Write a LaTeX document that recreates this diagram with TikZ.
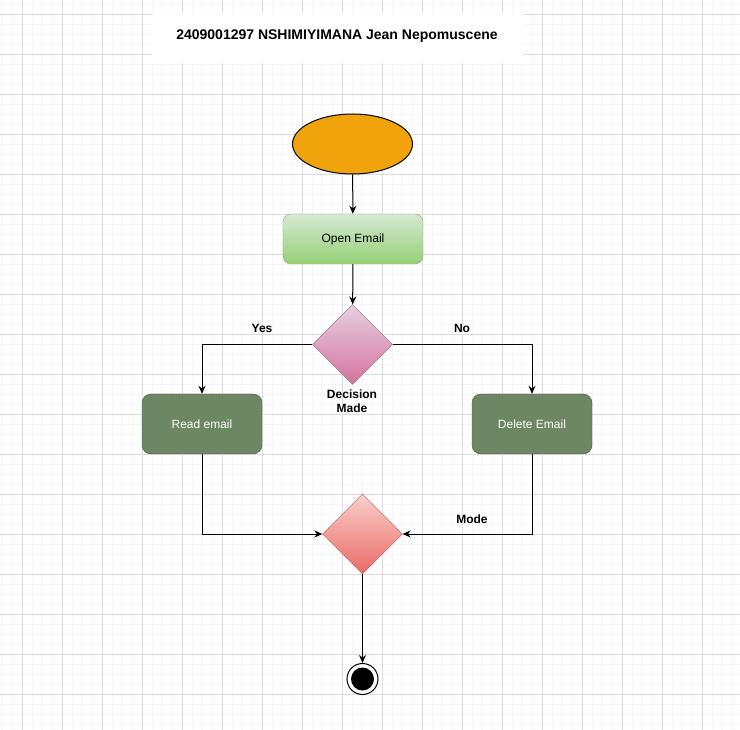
\documentclass[tikz,border=0pt]{standalone}
\usepackage{fontspec}
\setmainfont{Liberation Sans}
\usetikzlibrary{shapes.geometric,arrows.meta}
\definecolor{gridminor}{HTML}{F6F6F6}
\definecolor{gridmajor}{HTML}{DCDCDC}
\definecolor{startfill}{HTML}{F0A30A}
\definecolor{greentop}{HTML}{D5E8D4}
\definecolor{greenbot}{HTML}{97D077}
\definecolor{greenline}{HTML}{82B366}
\definecolor{pinktop}{HTML}{E6D0DE}
\definecolor{pinkbot}{HTML}{D5739D}
\definecolor{pinkline}{HTML}{996185}
\definecolor{redtop}{HTML}{F8CECC}
\definecolor{redbot}{HTML}{EA6B66}
\definecolor{redline}{HTML}{B85450}
\definecolor{actfill}{HTML}{6D8764}
\definecolor{actline}{HTML}{3A5431}

\begin{document}
\begin{tikzpicture}
        [x=1pt,y=-1pt,
         every node/.style={font=\fontsize{12}{14}\selectfont},
         startnode/.style={ellipse, draw, fill=startfill, line width=1pt,
           minimum width=120pt, minimum height=60pt, inner sep=0pt},
         opennode/.style={rectangle, rounded corners=8pt, draw=greenline,
           top color=greentop, bottom color=greenbot,
           minimum width=140pt, minimum height=50pt},
         actnode/.style={rectangle, rounded corners=9pt, draw=actline,
           fill=actfill, text=white, minimum width=120pt, minimum height=60pt},
         decidenode/.style={diamond, draw=pinkline, top color=pinktop,
           bottom color=pinkbot, minimum size=80pt, inner sep=0pt},
         mergenode/.style={diamond, draw=redline, top color=redtop,
           bottom color=redbot, minimum size=80pt, inner sep=0pt},
         lbl/.style={font=\fontsize{12}{14}\selectfont\bfseries, align=center},
         arr/.style={-{Stealth[length=8pt,width=7pt]}, line width=1pt}]
        %-----grid
         \fill[white] (0,0) rectangle (740,730);
         \useasboundingbox (0,0) rectangle (740,730);
         \foreach \x in {2,12,...,732}
         \draw[gridminor, line width=0.8pt] (\x,0) -- (\x,730);
         \foreach \y in {4,14,...,724}
         \draw[gridminor, line width=0.8pt] (0,\y) -- (740,\y);
         \foreach \x in {22,62,...,702}
         \draw[gridmajor, line width=0.8pt] (\x,0) -- (\x,730);
         \foreach \y in {14,54,...,694}
         \draw[gridmajor, line width=0.8pt] (0,\y) -- (740,\y);
        %-----title
         \fill[white] (152,13) rectangle (523,63);
         \node[lbl, font=\fontsize{14}{16}\selectfont\bfseries, anchor=base]  (title) at (337,40) {2409001297 NSHIMIYIMANA Jean Nepomuscene};
        %-----nodes
         \node[startnode]  (start) at (352.5,144) {};
         \node[opennode]  (open) at (353,239) {Open Email};
         \node[decidenode]  (decide) at (352.5,344.5) {};
         \node[actnode]  (read) at (202,424) {Read email};
         \node[actnode]  (delete) at (532,424) {Delete Email};
         \node[mergenode]  (merge) at (362.5,534) {};
         \node[circle, draw, fill=white, line width=1pt, minimum size=31pt, inner sep=0pt]  (finish) at (362.5,679) {};
         \node[circle, fill=black, minimum size=23pt, inner sep=0pt]  (finishdot) at (362.5,679) {};
        %-----labels
         \node[lbl]  (decidelbl) at (352,401) {Decision\\Made};
         \node[lbl, anchor=base]  (yes) at (262,333) {Yes};
         \node[lbl, anchor=base]  (no) at (462,333) {No};
         \node[lbl, anchor=base]  (mode) at (472,523) {Mode};
        %-----edges
         \foreach \from/\to in {start/open, open/decide, merge/finish}
         \draw[arr] (\from) -- (\to);
         \draw[arr] (decide.west) -| (read);
         \draw[arr] (decide.east) -| (delete);
         \draw[arr] (read) |- (merge.west);
         \draw[arr] (delete) |- (merge.east);
        \end{tikzpicture}
\end{document}
